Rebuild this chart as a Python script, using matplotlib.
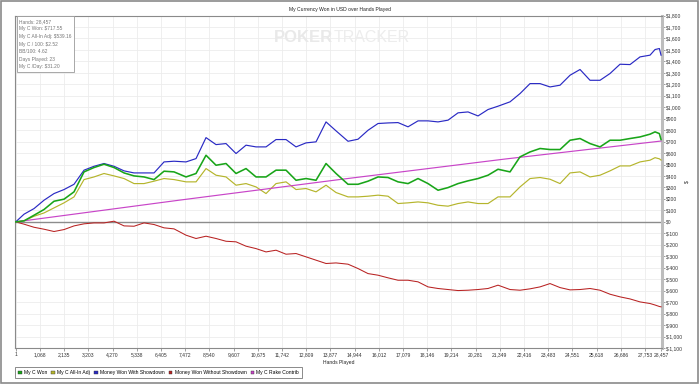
import matplotlib
matplotlib.use("Agg")
import matplotlib.pyplot as plt
from matplotlib.patches import Patch, Rectangle

plt.rcParams['font.family'] = ['Liberation Sans', 'DejaVu Sans']

# hands played (x positions of the readings)
hands = [0, 366, 807, 1248, 1689, 2130, 2571, 3012, 3453, 3894, 4335, 4776, 5217, 5658, 6099, 6540, 6981,
         7510, 7951, 8392, 8833, 9274, 9715, 10156, 10597, 11038, 11479, 11920, 12361, 12802, 13243, 13684, 14125,
         14654, 15095, 15536, 15977, 16418, 16859, 17300, 17741, 18182, 18623, 19064, 19505, 19946, 20387, 20828, 21269,
         21798, 22239, 22680, 23121, 23562, 24003, 24444, 24885, 25326, 25767, 26208, 26649, 27090, 27531, 27972,
         28193, 28384, 28457]

with_sd = [0, 67, 116, 189, 247, 282, 328, 451, 485, 509, 485, 445, 427, 427, 427, 523, 529,
           523, 552, 735, 674, 683, 596, 669, 654, 654, 718, 718, 654, 689, 698, 872, 794,
           703, 721, 799, 858, 863, 866, 829, 881, 881, 872, 887, 951, 959, 924, 980, 1009,
           1047, 1119, 1206, 1206, 1177, 1192, 1279, 1329, 1235, 1235, 1294, 1375, 1372, 1439, 1454,
           1503, 1512, 1454]

won = [0, 9, 58, 108, 180, 198, 262, 436, 474, 503, 474, 427, 401, 392, 369, 442, 436,
       392, 422, 581, 494, 509, 422, 465, 392, 392, 451, 451, 363, 378, 363, 509, 422,
       328, 328, 355, 392, 387, 349, 334, 378, 334, 276, 299, 334, 358, 378, 407, 459,
       436, 567, 610, 640, 631, 631, 712, 727, 683, 654, 712, 712, 727, 741, 765,
       785, 770, 718]

allin_adj = [0, 9, 49, 78, 122, 166, 218, 369, 392, 422, 401, 378, 334, 334, 355, 378, 369,
             349, 349, 465, 407, 392, 320, 334, 305, 247, 334, 349, 282, 291, 262, 320, 256,
             218, 218, 224, 233, 224, 160, 166, 174, 166, 145, 137, 160, 174, 160, 160, 218,
             218, 305, 378, 387, 372, 334, 427, 436, 392, 407, 445, 488, 488, 523, 538,
             560, 550, 539]

without_sd = [0, -20, -47, -64, -84, -67, -35, -17, -9, -9, 6, -35, -38, -9, -23, -52, -61,
              -116, -145, -125, -145, -169, -174, -212, -233, -262, -247, -282, -276, -305, -334, -363, -358,
              -369, -407, -451, -465, -488, -509, -509, -523, -567, -581, -590, -599, -596, -590, -581, -552,
              -590, -596, -584, -567, -538, -573, -593, -590, -581, -596, -631, -654, -672, -698, -712,
              -725, -738, -741]

rake_hands = [0, 7200, 14390, 21530, 28457]
rake = [0, 189, 372, 547, 705]

xticks = [1, 1068, 2135, 3203, 4270, 5338, 6405, 7472, 8540, 9607, 10675, 11742, 12809, 13877,
          14944, 16012, 17079, 18146, 19214, 20281, 21349, 22416, 23483, 24551, 25618, 26686, 27753, 28457]
yticks = list(range(-1100, 1900, 100))

stats = ["Hands: 28,457", "My C Won: \\$717.55", "My C All-In Adj: \\$539.16", "My C / 100: \\$2.52",
         "BB/100: 4.62", "Days Played: 23", "My C /Day: \\$31.20"]

c_won = '#19a519'
c_adj = '#b5b52c'
c_sd = '#2a2ac4'
c_nsd = '#b82222'
c_rake = '#c845c8'

fs = 3.6
fig = plt.figure(figsize=(7, 3.84), dpi=100)
fig.patches.append(Rectangle((0.002, 0.003), 0.995, 0.994, transform=fig.transFigure,
                             fill=False, ec='#8a8a8a', lw=1.2))
ax = fig.add_axes([15.5 / 700, 1 - 348 / 384, (662 - 15.5) / 700, (348 - 15.5) / 384])

ax.plot(hands, with_sd, color=c_sd, lw=0.85, zorder=3)
ax.plot(hands, without_sd, color=c_nsd, lw=0.75, zorder=3)
ax.plot(hands, allin_adj, color=c_adj, lw=0.85, zorder=3)
ax.plot(rake_hands, rake, color=c_rake, lw=0.85, zorder=3)
ax.plot(hands, won, color=c_won, lw=1.15, zorder=4)
ax.axhline(0, color='#8c8c8c', lw=1.0, zorder=2)

ax.set_xlim(-10, 28500)
ax.set_ylim(-1100, 1800)
ax.set_xticks(xticks)
ax.set_xticklabels([f"{t:,}" for t in xticks], fontsize=fs, color='#333333')
ax.set_yticks(yticks)
ax.set_yticklabels([f"\\${t:,}" for t in yticks], fontsize=fs, color='#333333')
ax.yaxis.tick_right()
ax.yaxis.set_label_position('right')
ax.tick_params(axis='both', length=2, width=0.5, color='#777777', pad=1)
ax.grid(True, color='#ececec', lw=0.6, zorder=0)
ax.set_axisbelow(True)

for s in ['left', 'top', 'bottom']:
    ax.spines[s].set_color('#8a8a8a')
    ax.spines[s].set_linewidth(0.8)
ax.spines['right'].set_color('#bdbdbd')
ax.spines['right'].set_linewidth(2.2)

ax.set_xlabel("Hands Played", fontsize=fs, labelpad=2, color='#222222')
ax.set_ylabel("$", fontsize=fs, labelpad=1, color='#222222')
fig.text(340 / 700, 1 - 9 / 384, "My Currency Won in USD over Hands Played", fontsize=fs,
         ha='center', va='center', color='#222222')

# watermark
fig.text(333 / 700, 1 - 38 / 384, "POKER", fontsize=12, fontweight='bold', color='#e9e9e9',
         ha='right', va='center', zorder=0)
fig.text(334 / 700, 1 - 38 / 384, "TRACKER", fontsize=11.5, color='#ededed',
         ha='left', va='center', zorder=0)

ax.text(0.006, 0.99, "\n".join(stats), transform=ax.transAxes, fontsize=3.5, color='#777777',
        va='top', ha='left', linespacing=1.65, zorder=6,
        bbox=dict(boxstyle='square,pad=0.5', fc='white', ec='#9a9a9a', lw=0.6))

handles = [Patch(fc=c_won, ec='#333333', lw=0.3), Patch(fc=c_adj, ec='#333333', lw=0.3),
           Patch(fc=c_sd, ec='#333333', lw=0.3), Patch(fc=c_nsd, ec='#333333', lw=0.3),
           Patch(fc=c_rake, ec='#333333', lw=0.3)]
labels = ["My C Won", "My C All-In Adj", "Money Won With Showdown", "Money Won Without Showdown",
          "My C Rake Contrib"]
leg = fig.legend(handles, labels, loc='lower left', bbox_to_anchor=(15 / 700, 1 - 378 / 384),
                 ncol=5, fontsize=fs, frameon=True, fancybox=False, handlelength=0.7,
                 handleheight=0.7, handletextpad=0.45, columnspacing=0.85, borderpad=0.6,
                 borderaxespad=0)
leg.get_frame().set_edgecolor('#555555')
leg.get_frame().set_linewidth(0.6)

fig.savefig('out.png', dpi=100)
